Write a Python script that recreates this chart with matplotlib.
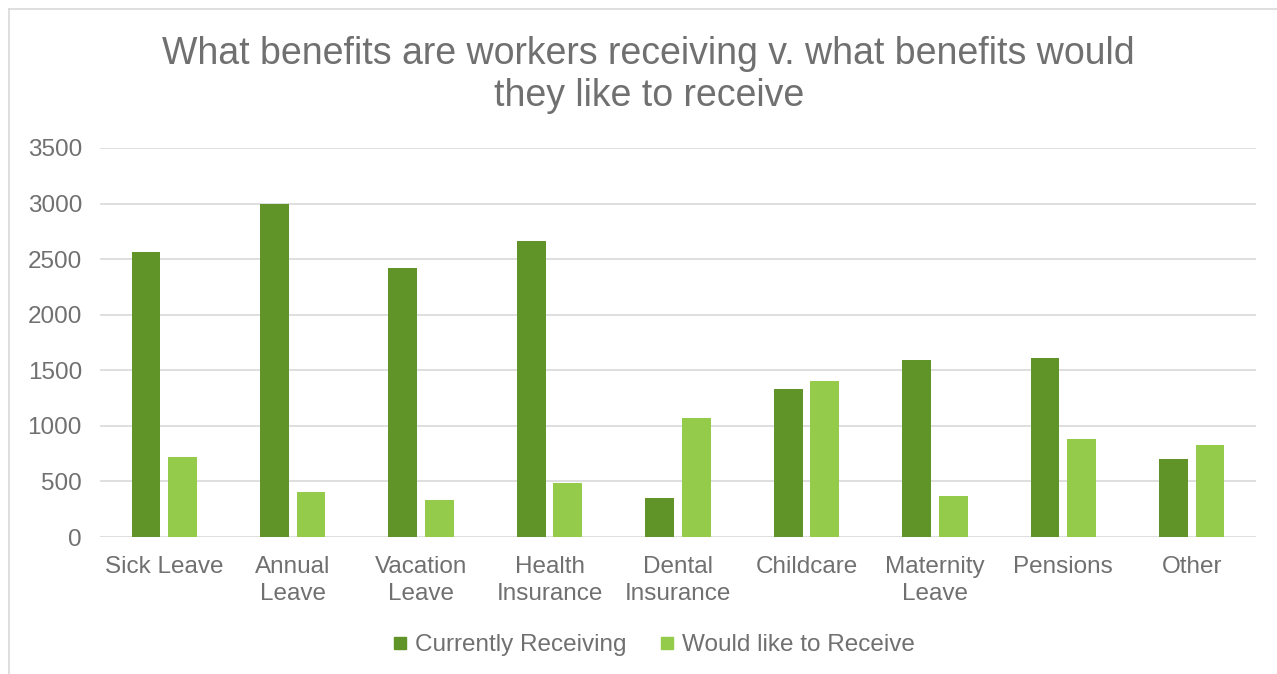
import matplotlib.pyplot as plt
import numpy as np
from matplotlib.lines import Line2D

categories = ["Sick Leave", "Annual\nLeave", "Vacation\nLeave", "Health\nInsurance", "Dental\nInsurance",
              "Childcare", "Maternity\nLeave", "Pensions", "Other"]
currently_receiving = [2565, 3000, 2417, 2663, 352, 1335, 1593, 1611, 703]
would_like = [718, 403, 334, 487, 1070, 1404, 373, 884, 824]
yticks = [0, 500, 1000, 1500, 2000, 2500, 3000, 3500]

plt.rcParams["font.family"] = ["Liberation Sans", "DejaVu Sans"]
text_color = "#707070"
dark_green = "#609328"
light_green = "#95CB4A"

fig = plt.figure(figsize=(12.77, 6.74), dpi=100)
ax = fig.add_axes([100 / 1277, 137 / 674, 1156 / 1277, 389 / 674])

x = np.arange(len(categories))
w = 0.224
gap = 0.06
ax.bar(x - (w + gap) / 2, currently_receiving, w, color=dark_green, label="Currently Receiving", zorder=3)
ax.bar(x + (w + gap) / 2, would_like, w, color=light_green, label="Would like to Receive", zorder=3)

ax.set_xlim(-0.5, len(categories) - 0.5)
ax.set_ylim(0, 3500)
ax.set_yticks(yticks)
ax.set_xticks(x)
ax.set_xticklabels(categories, fontsize=17.5, color=text_color, linespacing=1.25)
ax.tick_params(axis="y", labelsize=17.5, labelcolor=text_color, length=0, pad=13)
ax.tick_params(axis="x", length=0, pad=14)
ax.grid(axis="y", color="#D9D9D9", linewidth=1.2, zorder=0)
for s in ax.spines.values():
    s.set_visible(False)

fig.text(0.508, 1 - 75 / 674, "What benefits are workers receiving v. what benefits would\nthey like to receive",
         ha="center", va="center", fontsize=27, color=text_color, linespacing=1.2)

handles = [Line2D([], [], marker="s", linestyle="none", markersize=8, color=dark_green),
           Line2D([], [], marker="s", linestyle="none", markersize=8, color=light_green)]
fig.legend(handles, ["Currently Receiving", "Would like to Receive"], loc="center",
           bbox_to_anchor=(0.511, 1 - 645 / 674), ncol=2, frameon=False, fontsize=17.5,
           labelcolor=text_color, handletextpad=0.2, columnspacing=1.3, handlelength=0.8)

# chart frame (top and left edges visible)
fig.add_artist(Line2D([9 / 1277, 1.0], [1 - 9 / 674] * 2, color="#D9D9D9", linewidth=1.2))
fig.add_artist(Line2D([9 / 1277] * 2, [0.0, 1 - 9 / 674], color="#D9D9D9", linewidth=1.2))

fig.savefig("out.png", dpi=100)
